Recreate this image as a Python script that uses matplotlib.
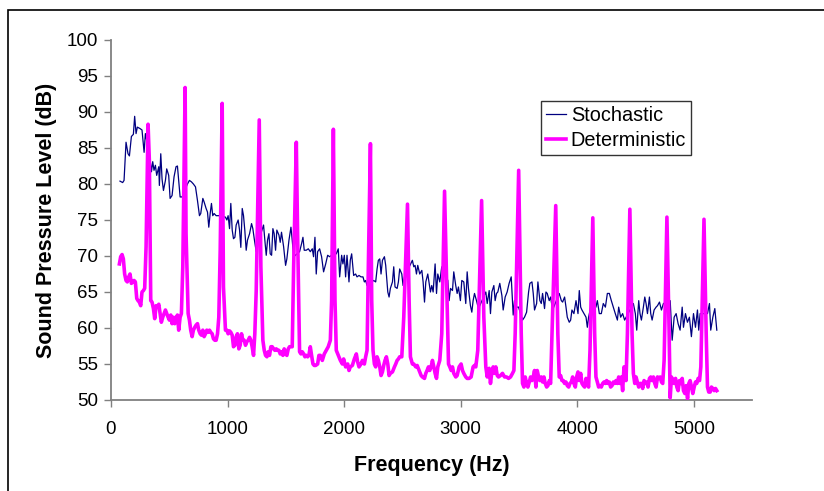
import matplotlib
matplotlib.use("Agg")
import matplotlib.pyplot as plt
from matplotlib.patches import Rectangle

plt.rcParams['font.family'] = ['Liberation Sans', 'DejaVu Sans']

stoch_freq = [77, 100, 112, 129, 146, 158, 175, 192, 203, 215, 226, 249, 266, 284, 295, 306,
              335, 347, 358, 369, 381, 392, 410, 415, 427, 438, 450, 467, 478, 495, 507, 524,
              541, 558, 570, 581, 593, 610, 656, 673, 690, 707, 725, 742, 759, 770, 788, 799,
              816, 828, 839, 851, 862, 873, 885, 902, 925, 982, 994, 1005, 1017, 1028, 1040,
              1051, 1063, 1074, 1091, 1103, 1114, 1126, 1137, 1148, 1160, 1171, 1189, 1206,
              1217, 1229, 1246, 1257, 1269, 1309, 1320, 1332, 1343, 1355, 1366, 1378, 1389,
              1400, 1412, 1423, 1441, 1452, 1463, 1481, 1498, 1509, 1527, 1544, 1555, 1567,
              1618, 1635, 1647, 1658, 1675, 1693, 1710, 1727, 1738, 1750, 1761, 1773, 1790,
              1807, 1824, 1842, 1859, 1876, 1893, 1933, 1950, 1962, 1979, 1990, 2002, 2013,
              2025, 2042, 2053, 2065, 2082, 2099, 2111, 2128, 2145, 2162, 2174, 2185, 2197,
              2254, 2271, 2283, 2294, 2306, 2317, 2329, 2346, 2357, 2375, 2386, 2397, 2415,
              2426, 2437, 2455, 2466, 2477, 2495, 2506, 2518, 2586, 2598, 2609, 2621, 2632,
              2649, 2667, 2678, 2690, 2701, 2718, 2730, 2741, 2752, 2764, 2781, 2793, 2804,
              2821, 2838, 2890, 2901, 2913, 2930, 2941, 2958, 2970, 2981, 2998, 3010, 3027,
              3044, 3056, 3067, 3084, 3096, 3107, 3119, 3136, 3153, 3216, 3228, 3245, 3256,
              3268, 3285, 3296, 3308, 3319, 3336, 3354, 3365, 3382, 3399, 3416, 3434, 3451,
              3462, 3480, 3497, 3531, 3548, 3566, 3583, 3594, 3612, 3623, 3634, 3652, 3663,
              3680, 3692, 3703, 3720, 3732, 3743, 3760, 3772, 3789, 3846, 3864, 3875, 3892,
              3904, 3915, 3932, 3944, 3955, 3972, 3990, 4007, 4018, 4030, 4041, 4058, 4076,
              4087, 4098, 4116, 4161, 4173, 4190, 4207, 4224, 4242, 4259, 4276, 4293, 4310,
              4327, 4345, 4356, 4373, 4390, 4407, 4482, 4499, 4511, 4528, 4539, 4551, 4568,
              4580, 4591, 4603, 4620, 4631, 4643, 4660, 4677, 4689, 4706, 4723, 4740, 4798,
              4815, 4832, 4849, 4866, 4883, 4901, 4912, 4929, 4946, 4963, 4980, 4998, 5015,
              5032, 5043, 5055, 5118, 5135, 5146, 5164, 5181, 5198]
stoch_spl = [80.4, 80.2, 80.5, 85.8, 84.2, 83.9, 86.6, 86.9, 89.4, 87.0, 87.9, 87.7, 87.5, 84.4, 87.0, 86.1,
             83.5, 81.7, 83.1, 81.9, 82.6, 81.2, 82.4, 79.8, 84.2, 80.7, 79.1, 80.5, 82.1, 81.2, 78.0, 78.4,
             81.0, 82.4, 82.5, 80.5, 78.2, 78.2, 80.0, 80.5, 80.3, 80.0, 79.6, 77.7, 75.6, 75.9, 78.0, 77.5,
             76.6, 76.1, 74.0, 75.9, 77.3, 75.6, 75.9, 75.6, 75.6, 75.4, 75.0, 75.6, 73.8, 77.3, 73.6,
             72.4, 72.6, 74.3, 75.0, 73.6, 71.2, 76.6, 75.6, 73.6, 70.8, 72.2, 73.1, 74.5,
             73.8, 72.4, 70.6, 72.9, 72.2, 74.3, 72.2, 70.1, 72.2, 73.1, 70.3, 70.1, 73.8,
             73.1, 70.8, 73.6, 72.9, 71.9, 73.3, 71.3, 68.7, 69.6, 72.2, 74.0, 72.2, 69.9,
             70.6, 71.7, 72.6, 70.8, 70.8, 71.0, 70.6, 71.0, 69.9, 72.6, 67.5, 70.6, 71.0,
             69.9, 67.8, 68.9, 70.1, 69.9, 70.1, 70.3, 71.0, 67.1, 70.1, 68.9, 70.1, 67.1,
             70.1, 66.4, 69.4, 70.3, 67.3, 67.5, 67.1, 67.3, 67.1, 67.1, 66.4, 66.6, 65.9,
             66.6, 66.4, 68.2, 69.4, 69.6, 67.5, 69.4, 69.9, 68.7, 65.0, 64.3, 65.5, 66.4,
             68.5, 65.7, 65.5, 66.4, 68.2, 67.5, 65.9, 67.1, 69.4, 68.5, 68.7, 67.5, 68.7,
             67.5, 68.0, 66.4, 63.6, 66.4, 67.5, 66.2, 65.0, 65.9, 65.0, 68.9, 64.8, 67.5,
             66.4, 68.5, 66.6, 63.8, 65.5, 65.2, 67.8, 65.9, 64.8, 65.7, 63.8, 66.6, 66.4,
             63.4, 67.8, 65.5, 63.1, 62.2, 63.8, 64.8, 63.8, 62.7, 65.0, 63.4, 65.2, 62.0,
             65.0, 65.9, 63.8, 64.8, 65.0, 66.2, 64.5, 62.5, 64.3, 65.0, 66.2, 67.1, 61.8,
             63.8, 62.9, 62.9, 61.1, 61.5, 62.2, 65.0, 66.2, 66.4, 64.8, 62.5, 63.4, 66.4,
             63.8, 63.4, 64.8, 62.7, 65.0, 64.8, 63.8, 64.3, 62.5, 64.8, 63.8, 63.6, 64.3,
             62.9, 61.5, 60.8, 61.1, 62.5, 62.0, 63.8, 62.0, 65.2, 62.9, 62.5, 62.0, 61.5,
             60.1, 61.5, 62.9, 62.9, 63.8, 62.0, 62.0, 63.4, 62.9, 64.8, 64.8, 63.8, 62.9,
             62.0, 61.1, 62.9, 61.5, 62.0, 61.1, 63.4, 62.0, 59.7, 63.8, 62.0, 61.1, 62.9,
             64.3, 63.4, 62.0, 64.3, 62.0, 61.1, 62.5, 62.9, 63.1, 63.6, 62.5, 63.4, 63.8,
             58.3, 61.5, 62.0, 60.6, 59.7, 62.9, 60.1, 62.0, 60.8, 61.5, 58.8, 62.0, 60.1,
             62.5, 59.7, 62.0, 62.0, 63.4, 59.7, 61.5, 62.7, 59.7]

det_freq = [72, 83, 95, 106, 117, 129, 140, 152, 163, 175, 186, 198, 209, 221, 232, 243, 255, 266,
            278, 289, 301, 318, 329, 341, 352, 364, 375, 387, 398, 410, 421, 432, 444, 455, 467,
            478, 490, 501, 513, 524, 536, 547, 558, 570, 581, 593, 604, 616, 636, 644, 662, 673,
            684, 696, 707, 719, 730, 742, 753, 765, 776, 788, 799, 811, 822, 833, 845, 856, 868,
            879, 891, 902, 914, 925, 937, 954, 965, 982, 994, 1005, 1017, 1028, 1040, 1051, 1063,
            1074, 1085, 1097, 1108, 1120, 1131, 1143, 1154, 1166, 1177, 1189, 1200, 1211, 1223,
            1234, 1246, 1272, 1286, 1303, 1315, 1326, 1338, 1349, 1360, 1372, 1383, 1395, 1406,
            1418, 1429, 1441, 1452, 1463, 1475, 1486, 1498, 1509, 1521, 1532, 1544, 1555, 1567,
            1590, 1601, 1618, 1630, 1641, 1653, 1664, 1675, 1687, 1698, 1710, 1721, 1733, 1744,
            1756, 1773, 1784, 1796, 1813, 1830, 1847, 1864, 1882, 1893, 1908, 1922, 1933, 1950,
            1968, 1985, 1996, 2013, 2031, 2042, 2053, 2071, 2088, 2105, 2116, 2128, 2145, 2157,
            2174, 2185, 2197, 2208, 2226, 2237, 2248, 2260, 2271, 2283, 2294, 2306, 2317, 2329,
            2340, 2351, 2363, 2375, 2386, 2397, 2415, 2432, 2443, 2455, 2466, 2477, 2495, 2512,
            2544, 2558, 2569, 2586, 2598, 2615, 2627, 2644, 2661, 2672, 2690, 2701, 2712, 2724,
            2735, 2747, 2758, 2770, 2781, 2793, 2804, 2821, 2838, 2862, 2884, 2896, 2907, 2919,
            2930, 2941, 2958, 2970, 2987, 3004, 3016, 3027, 3044, 3056, 3073, 3090, 3107, 3119,
            3130, 3147, 3180, 3199, 3216, 3228, 3245, 3256, 3268, 3279, 3291, 3302, 3314, 3325,
            3342, 3359, 3377, 3394, 3411, 3428, 3445, 3457, 3468, 3498, 3520, 3531, 3543, 3554,
            3566, 3577, 3589, 3600, 3612, 3623, 3634, 3646, 3657, 3669, 3680, 3692, 3703, 3715,
            3726, 3738, 3749, 3761, 3772, 3784, 3816, 3834, 3846, 3858, 3869, 3881, 3892, 3904,
            3915, 3927, 3938, 3950, 3961, 3972, 3984, 3995, 4007, 4018, 4030, 4041, 4053, 4064,
            4076, 4087, 4098, 4110, 4134, 4150, 4161, 4173, 4184, 4196, 4207, 4219, 4230, 4242,
            4253, 4264, 4276, 4287, 4299, 4310, 4322, 4333, 4345, 4356, 4367, 4379, 4390, 4402,
            4419, 4431, 4452, 4471, 4482, 4494, 4505, 4516, 4528, 4539, 4551, 4562, 4574, 4585,
            4597, 4608, 4620, 4631, 4643, 4654, 4666, 4677, 4689, 4700, 4712, 4723, 4734, 4746,
            4770, 4789, 4798, 4809, 4821, 4832, 4844, 4855, 4866, 4878, 4889, 4901, 4912, 4924,
            4935, 4947, 4958, 4969, 4981, 4992, 5004, 5015, 5026, 5038, 5050, 5061, 5088, 5107,
            5118, 5129, 5141, 5152, 5164, 5175, 5187, 5198]
det_spl = [68.9, 69.9, 70.2, 69.6, 67.5, 66.6, 66.4, 67.1, 67.5, 66.2, 66.4, 66.6, 66.4, 64.1, 63.8, 63.6, 63.1, 65.0,
           65.2, 65.5, 71.3, 88.3, 83.3, 63.8, 63.6, 62.7, 61.3, 63.1, 62.9, 63.3, 62.0, 60.8, 61.5, 62.0, 62.5,
           62.0, 61.5, 61.1, 61.8, 60.6, 61.5, 60.6, 61.3, 61.8, 59.7, 61.5, 62.0, 68.5, 93.4, 73.1, 62.0, 61.1,
           59.7, 58.8, 59.7, 60.1, 60.4, 60.6, 59.7, 59.2, 59.0, 59.7, 58.8, 59.2, 59.7, 59.4, 59.7, 59.4, 59.2,
           58.5, 58.3, 58.3, 59.2, 61.5, 70.8, 91.2, 65.7, 59.7, 59.7, 59.2, 59.6, 59.4, 59.0, 57.4, 57.6,
           58.8, 59.2, 57.1, 57.6, 59.2, 58.3, 58.3, 57.6, 58.1, 58.3, 58.7, 58.3, 57.4, 56.2,
           59.2, 65.2, 88.9, 68.5, 58.3, 56.9, 56.2, 56.0, 56.7, 56.2, 57.4, 57.4, 57.1, 56.9,
           57.1, 56.9, 56.9, 56.4, 56.7, 56.2, 57.1, 56.4, 56.2, 57.1, 57.4, 57.4, 57.4, 68.5,
           85.8, 73.1, 56.7, 56.4, 56.7, 56.4, 56.0, 56.2, 56.0, 56.2, 57.4, 56.2, 55.0, 54.8,
           54.8, 55.0, 56.2, 56.2, 55.5, 56.4, 56.9, 57.4, 58.3, 63.8, 87.6, 63.8, 56.9, 56.2,
           55.5, 55.0, 55.7, 54.6, 55.0, 54.1, 54.6, 54.8, 55.7, 56.4, 55.3, 54.6, 55.0, 55.5,
           55.0, 56.0, 56.9, 68.5, 85.6, 63.8, 56.9, 55.0, 54.6, 56.0, 55.5, 54.6, 53.4, 53.9,
           54.8, 55.5, 56.0, 55.0, 53.4, 53.7, 53.9, 54.6, 55.0, 55.5, 55.7, 56.0, 56.0, 61.5,
           77.2, 63.8, 56.0, 55.0, 55.0, 54.6, 54.8, 54.1, 53.4, 53.2, 53.0, 53.7, 54.1, 54.6,
           54.1, 54.6, 55.5, 54.6, 53.7, 53.0, 54.6, 55.5, 59.2, 79.0, 63.8, 55.0, 54.6, 54.1,
           54.6, 53.7, 53.2, 53.4, 54.6, 55.0, 54.1, 53.7, 53.2, 53.0, 53.0, 53.2, 54.6, 54.8,
           54.6, 56.9, 77.7, 61.5, 54.6, 53.2, 54.4, 52.3, 53.9, 54.6, 53.7, 54.6, 53.4, 53.2,
           53.4, 53.7, 53.2, 53.2, 53.0, 53.2, 53.7, 54.1, 59.2, 81.9, 59.2, 52.3, 51.8, 53.2,
           52.3, 51.8, 52.5, 53.2, 52.7, 53.2, 54.1, 51.8, 54.1, 53.2, 52.7, 53.2, 52.5, 53.2,
           52.3, 51.8, 52.0, 52.7, 52.3, 59.2, 77.0, 59.2, 53.2, 53.4, 52.7, 52.7, 52.3, 52.5,
           52.0, 51.8, 52.3, 52.5, 53.2, 52.3, 51.8, 53.2, 53.9, 52.7, 53.7, 52.3, 52.0, 51.8,
           53.0, 52.3, 51.8, 56.9, 75.3, 59.2, 53.2, 52.5, 51.8, 52.0, 51.8, 52.3, 52.5, 52.3,
           52.7, 52.3, 52.5, 51.8, 52.0, 52.5, 52.3, 52.7, 52.3, 53.2, 52.3, 53.2, 51.3, 54.6,
           52.7, 59.2, 76.5, 59.2, 53.7, 52.3, 53.2, 52.5, 51.8, 52.3, 52.3, 51.6, 52.7, 52.3,
           52.5, 51.8, 53.0, 53.2, 52.7, 53.2, 52.3, 51.8, 53.2, 53.0, 53.2, 52.5, 52.3, 55.5,
           75.4, 59.2, 50.3, 53.2, 52.7, 52.3, 53.0, 51.8, 51.3, 52.7, 52.3, 53.0, 51.3, 50.9,
           52.0, 50.2, 52.3, 52.7, 51.8, 50.9, 51.8, 52.5, 52.3, 53.0, 52.7, 54.6, 75.1, 59.2,
           51.8, 51.1, 51.1, 51.8, 51.6, 51.3, 51.6, 51.3]

x_ticks = [0, 1000, 2000, 3000, 4000, 5000]
y_ticks = [50, 55, 60, 65, 70, 75, 80, 85, 90, 95, 100]

W, H = 824, 491
fig = plt.figure(figsize=(W / 100, H / 100), dpi=100)
ax = fig.add_axes([111 / W, 1 - 400 / H, (752 - 111) / W, (400 - 40) / H])

ax.plot(stoch_freq, stoch_spl, color='#000080', lw=0.9, label='Stochastic', zorder=2)
ax.plot(det_freq, det_spl, color='#FF00FF', lw=2.6, label='Deterministic', zorder=3,
        solid_joinstyle='round')

ax.set_xlim(0, 5500)
ax.set_ylim(50, 100)
ax.set_xticks(x_ticks)
ax.set_yticks(y_ticks)
ax.tick_params(axis='both', direction='out', length=5, width=1, color='#808080',
               labelsize=13.5)
ax.tick_params(axis='x', pad=10)
ax.tick_params(axis='y', pad=4)
for side in ['top', 'right']:
    ax.spines[side].set_visible(False)
for side in ['left', 'bottom']:
    ax.spines[side].set_color('#808080')
    ax.spines[side].set_linewidth(1.3)

ax.set_xlabel('Frequency (Hz)', fontsize=15.5, fontweight='bold', labelpad=12)
ax.set_ylabel('Sound Pressure Level (dB)', fontsize=15.5, fontweight='bold', labelpad=7)

leg = ax.legend(loc='upper left', bbox_to_anchor=((541 - 111) / (752 - 111), (400 - 101) / 360),
                fontsize=14.3, frameon=True, fancybox=False, shadow=False,
                handlelength=1.0, handletextpad=0.25, borderpad=0.25, labelspacing=0.3,
                borderaxespad=0)
leg.get_frame().set_edgecolor('black')
leg.get_frame().set_linewidth(1.0)

fig.patches.append(Rectangle((8 / W, -0.1), 1.2, 1 - 10 / H + 0.1, transform=fig.transFigure,
                             fill=False, edgecolor='black', linewidth=1.2, figure=fig))

fig.savefig('out.png', dpi=100)
